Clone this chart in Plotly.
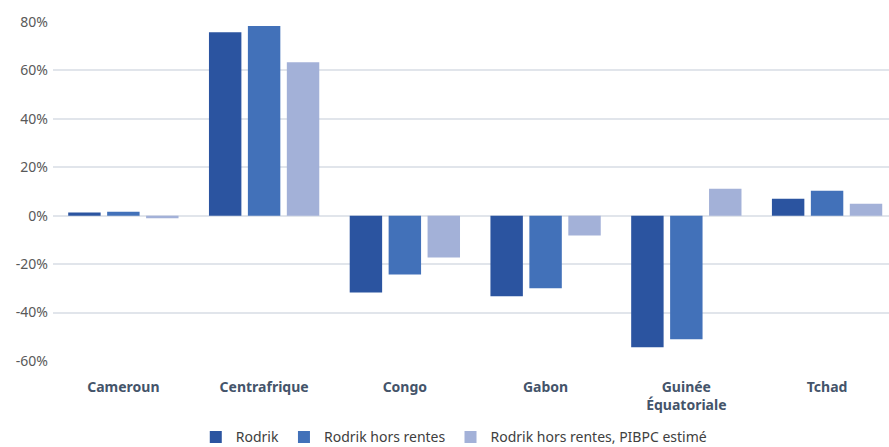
import plotly.graph_objects as go

categories = ["Cameroun", "Centrafrique", "Congo", "Gabon", "Guinée<br>Équatoriale", "Tchad"]
rodrik = [1.3, 75.8, -31.7, -33.3, -54.3, 7.0]
rodrik_hors_rentes = [1.6, 78.3, -24.3, -30.0, -51.0, 10.3]
rodrik_pibpc = [-1.0, 63.4, -17.3, -8.2, 11.1, 4.9]
y_ticks = [-60, -40, -20, 0, 20, 40, 60, 80]
y_tick_labels = ["-60%", "-40%", "-20%", "0%", "20%", "40%", "60%", "80%"]

series = [
    ("Rodrik", rodrik, "#2b54a0"),
    ("Rodrik hors rentes", rodrik_hors_rentes, "#4271b9"),
    ("Rodrik hors rentes, PIBPC estimé", rodrik_pibpc, "#a3b1d8"),
]

fig = go.Figure()
for name, vals, color in series:
    fig.add_trace(go.Bar(x=categories, y=vals, name=name, marker=dict(color=color, line=dict(width=0))))

fig.update_layout(
    width=889, height=447,
    margin=dict(l=53, r=0, t=22, b=86, autoexpand=False),
    paper_bgcolor="white", plot_bgcolor="white",
    barmode="group", bargap=0.17, bargroupgap=0.167,
    font=dict(family="Noto Sans", color="#595959", size=14),
    legend=dict(orientation="h", x=0.48, xanchor="center", y=-0.225, yanchor="middle",
                font=dict(size=14, color="#404040"), itemwidth=30, traceorder="normal"),
    xaxis=dict(showgrid=False, showline=False, ticks="", ticklabelstandoff=16,
               range=[-0.5, 5.44], automargin=False,
               tickfont=dict(size=14, color="#44546a", family="Noto Sans", weight="bold")),
    yaxis=dict(range=[-60, 80], tickvals=y_ticks, ticktext=y_tick_labels, automargin=False,
               showgrid=True, gridcolor="#e1e5eb", gridwidth=1.5, ticklabelstandoff=4,
               zeroline=True, zerolinecolor="#e1e5eb", zerolinewidth=1.5,
               showline=False, ticks="", tickfont=dict(size=14, color="#595959")),
)

fig.write_html("out.html", config={"displayModeBar": False})

with open("out.html", encoding="utf-8") as f:
    html = f.read()
html = html.replace("<head>", "<head><style>html,body{margin:0;padding:0;overflow:hidden;}</style>", 1)
with open("out.html", "w", encoding="utf-8") as f:
    f.write(html)
